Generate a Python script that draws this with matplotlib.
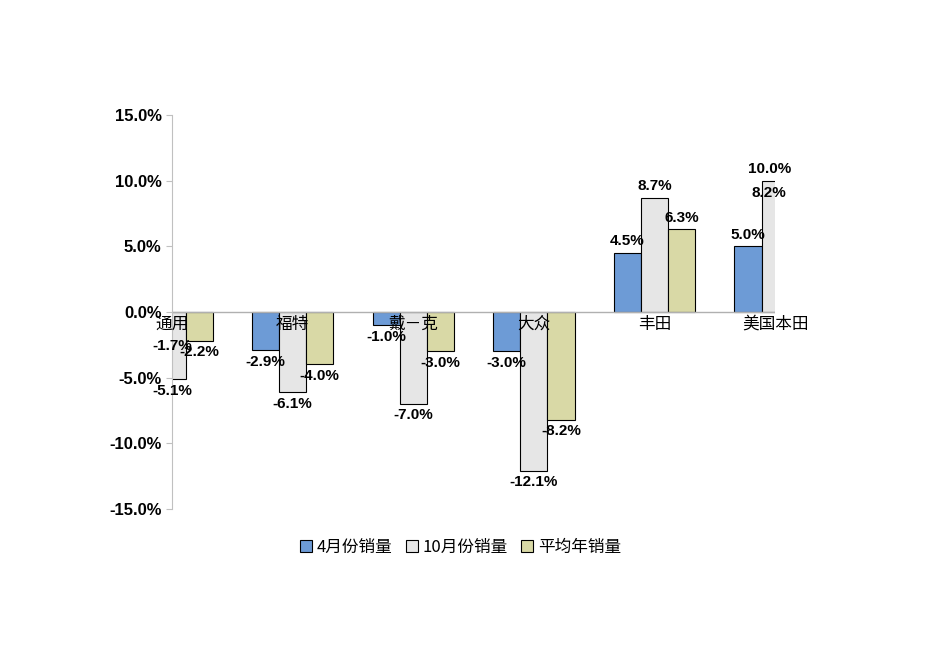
import numpy as np
import matplotlib.pyplot as plt

plt.rcParams['font.family'] = ['Liberation Sans', 'Noto Sans CJK SC']

categories = ["通用", "福特", "戴－克", "大众", "丰田", "美国本田"]
april = [-1.7, -2.9, -1.0, -3.0, 4.5, 5.0]
october = [-5.1, -6.1, -7.0, -12.1, 8.7, 10.0]
average = [-2.2, -4.0, -3.0, -8.2, 6.3, 8.2]
series_names = ["4月份销量", "10月份销量", "平均年销量"]
colors = ["#6d9bd6", "#e6e6e6", "#d9d9a6"]

fig = plt.figure(figsize=(9.5, 6.72), dpi=100)
ax = fig.add_axes([0.181, 0.2426, 0.635, 0.5864])

x = np.arange(len(categories))
w = 0.225
for i, (vals, name, c) in enumerate(zip([april, october, average], series_names, colors)):
    pos = x + (i - 1) * w
    ax.bar(pos, vals, w, color=c, edgecolor="black", linewidth=0.8, label=name)
    for px, v in zip(pos, vals):
        off = 0.35 if v >= 0 else -0.35
        lx = min(max(px, 0.0), 4.95)  # labels of clipped bars sit at the plot edge
        ax.text(lx, v + off, f"{v:.1f}%", ha="center", va="bottom" if v >= 0 else "top",
                fontsize=11, fontweight="bold", clip_on=False)

ax.set_xlim(0, 5)
ax.set_ylim(-15, 15)
ax.set_yticks(np.arange(-15, 16, 5))
ax.set_yticklabels([f"{t:.1f}%" for t in np.arange(-15, 16, 5)], fontsize=12, fontweight="bold")
ax.set_xticks([])
for xi, cat in zip(x, categories):
    ax.text(xi, -0.3, cat, ha="center", va="top", fontsize=12, family="Noto Sans CJK SC")
ax.axhline(0, color="#b0b0b0", linewidth=1)
for s in ["top", "right", "bottom"]:
    ax.spines[s].set_visible(False)
ax.spines["left"].set_color("#c0c0c0")
ax.tick_params(axis="y", length=4, color="#c0c0c0")

fig.legend(loc="center", bbox_to_anchor=(0.485, 0.186), ncol=3, frameon=False,
           prop={"family": "Noto Sans CJK SC", "size": 12}, handlelength=0.7,
           handletextpad=0.3, columnspacing=0.8)

fig.savefig("out.png", dpi=100)
